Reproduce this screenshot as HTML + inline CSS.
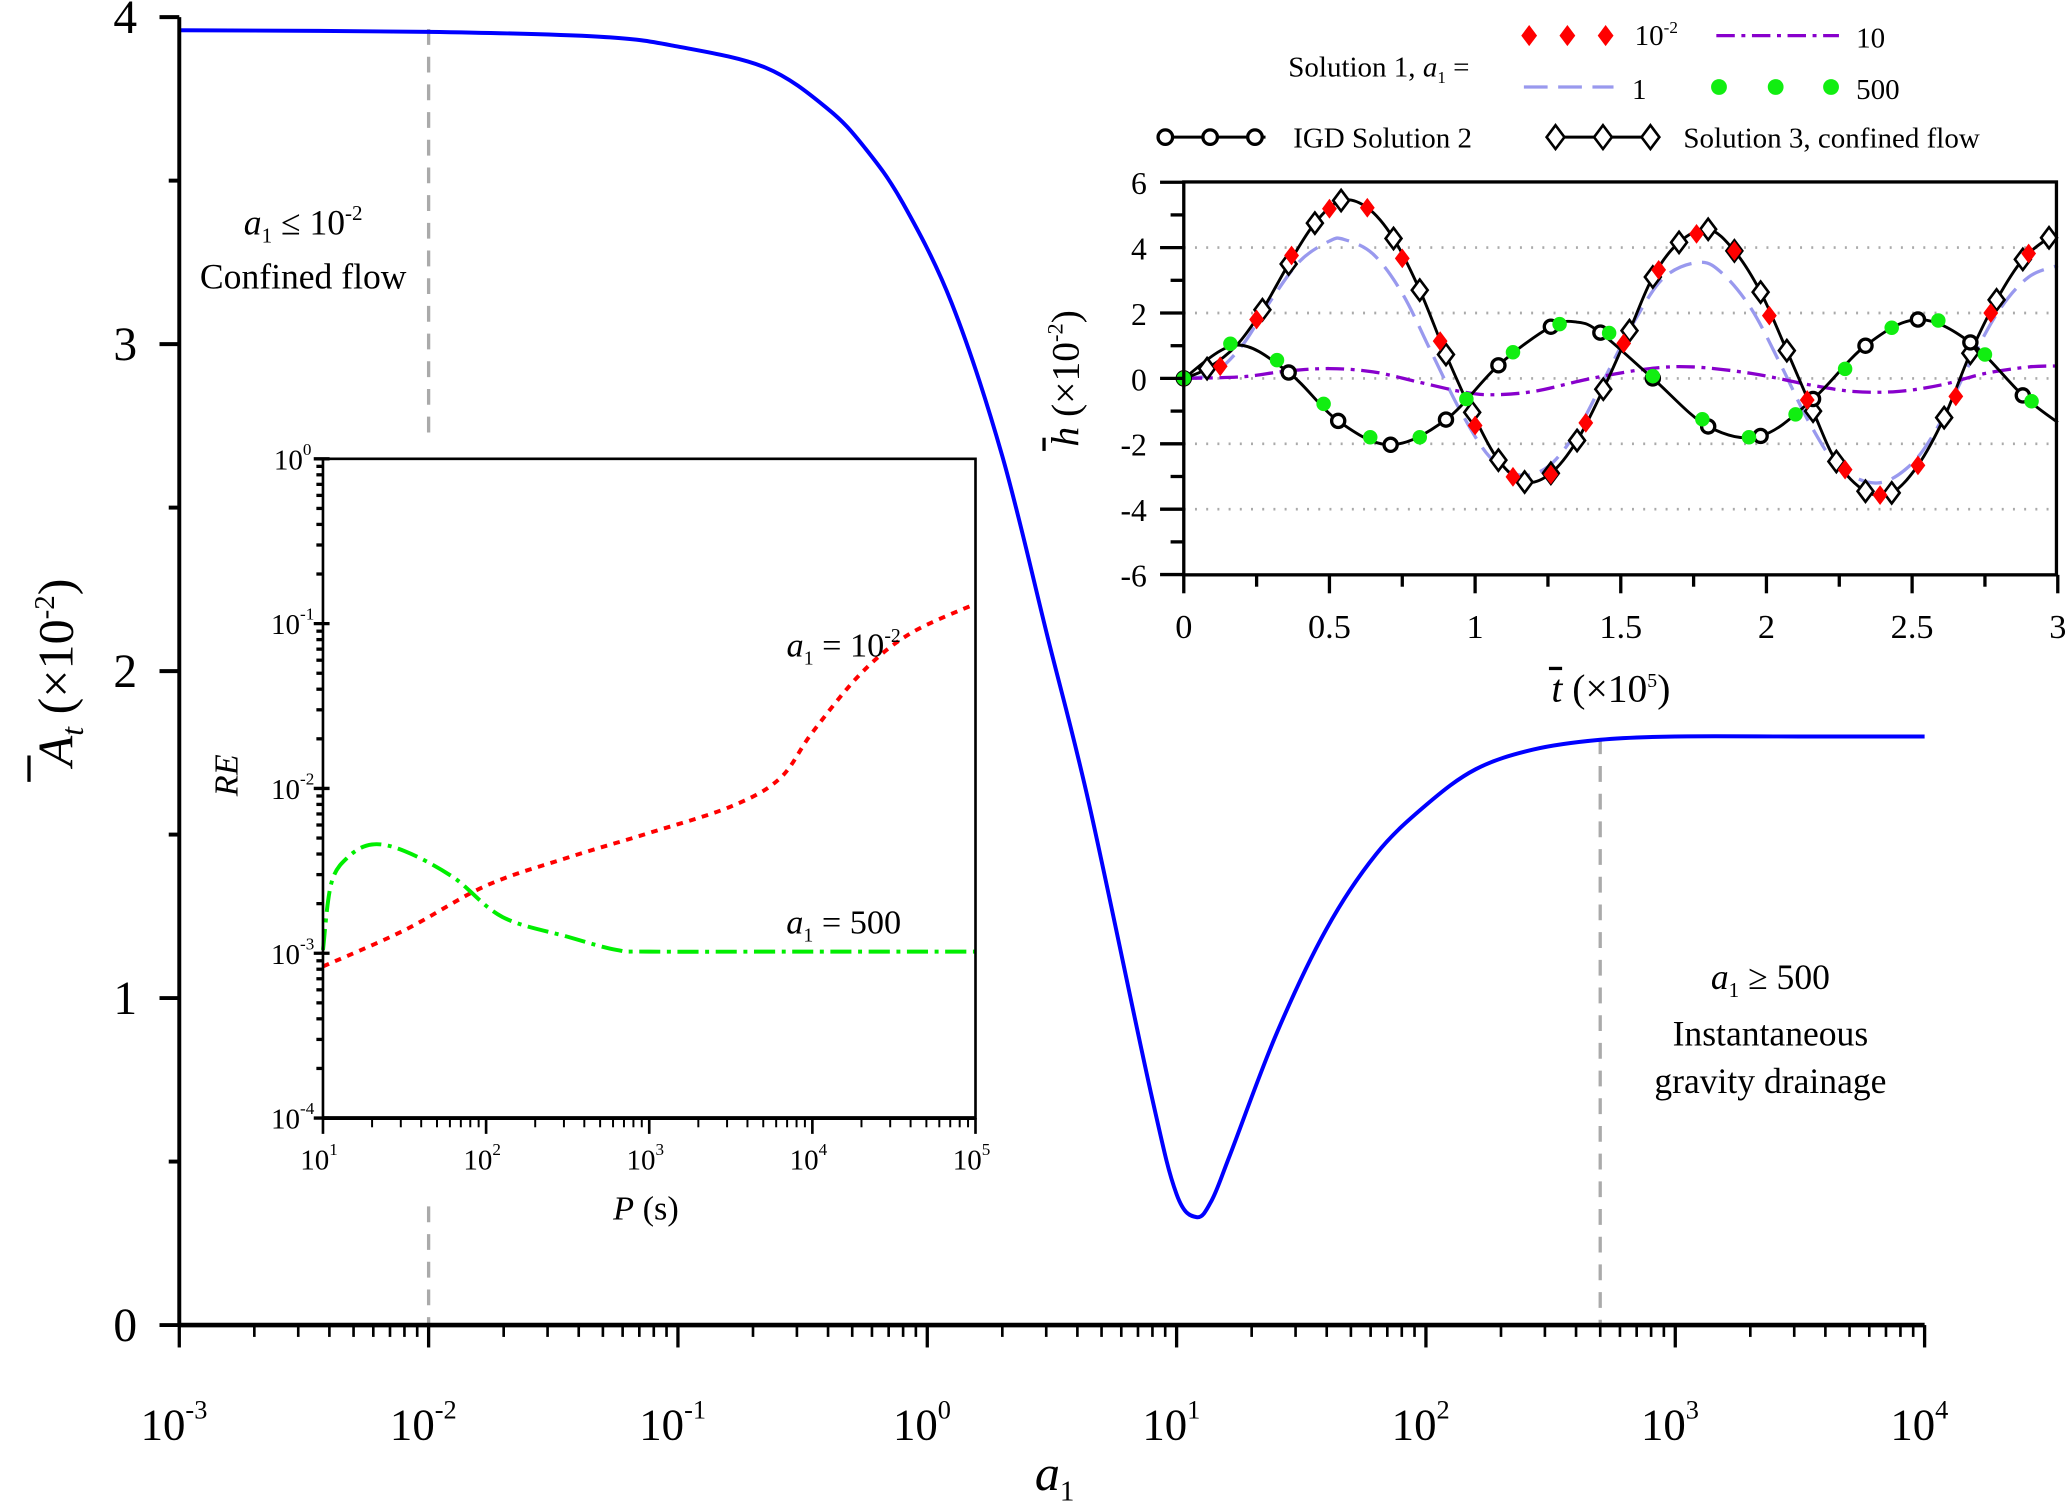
<!DOCTYPE html>
<html><head><meta charset="utf-8"><style>
html,body{margin:0;padding:0;background:#fff;overflow:hidden}
svg{display:block}
text{font-family:"Liberation Serif",serif;fill:#000}
</style></head><body>
<svg id="c" xmlns="http://www.w3.org/2000/svg" width="2067" height="1507" viewBox="0 0 1568 1143" preserveAspectRatio="none">
<g id="g"></g>
</svg>
<script>
// ---- main chart data ----
const mainLogA = [-3,-2,-1.313,-1,-0.647,-0.4,-0.25,-0.097,0.098,0.3,0.484,0.65,0.897,1.0,1.08,1.14,1.214,1.4,1.6,1.8,2,2.2,2.43,2.7,3,3.5,4];
const mainAt   = [3.96,3.955,3.94,3.91,3.845,3.72,3.60,3.43,3.125,2.66,2.10,1.59,0.71,0.40,0.33,0.38,0.52,0.89,1.21,1.44,1.59,1.70,1.76,1.79,1.80,1.80,1.80];
const mainYTicks = [0,1,2,3,4];
const mainXDecades = [-3,-2,-1,0,1,2,3,4];
// ---- inset 1 data (log10 P, log10 RE) ----
const reLogP_a = [1,1.5,2,2.5,3,3.5,3.8,4,4.3,4.6,5];
const reLog_a  = [-3.08,-2.86,-2.59,-2.42,-2.27,-2.11,-1.94,-1.66,-1.30,-1.06,-0.88];
const reLogP_b = [1,1.05,1.15,1.3,1.5,1.8,2.1,2.5,2.8,3,4,5];
const reLog_b  = [-2.98,-2.58,-2.42,-2.34,-2.38,-2.54,-2.78,-2.9,-2.98,-2.99,-2.99,-2.99];
const insetYDecades = [-4,-3,-2,-1,0];
const insetXDecades = [1,2,3,4,5];
// ---- inset 2 data ----
const s3T = [0,0.08,0.18,0.27,0.36,0.45,0.54,0.63,0.72,0.81,0.9,0.99,1.08,1.17,1.26,1.35,1.44,1.53,1.61,1.7,1.8,1.89,1.98,2.07,2.16,2.24,2.34,2.43,2.52,2.61,2.7,2.79,2.88,2.97,3];
const s3V = [0,0.3,1.0,2.1,3.5,4.75,5.44,5.22,4.28,2.7,0.73,-1.04,-2.5,-3.17,-2.9,-1.9,-0.33,1.46,3.1,4.16,4.56,3.9,2.64,0.85,-1.0,-2.54,-3.45,-3.5,-2.66,-1.2,0.77,2.4,3.64,4.3,4.35];
const redT = [0,0.125,0.25,0.37,0.5,0.63,0.75,0.88,1.0,1.13,1.26,1.38,1.51,1.63,1.76,1.89,2.01,2.14,2.27,2.39,2.52,2.65,2.77,2.9];
const redV = [0,0.37,1.8,3.76,5.19,5.22,3.67,1.14,-1.44,-3.01,-2.94,-1.36,1.07,3.32,4.42,3.9,1.92,-0.66,-2.79,-3.57,-2.66,-0.55,2.0,3.82];
const blueT = [0,0.1,0.2,0.3,0.4,0.5,0.55,0.65,0.75,0.85,0.95,1.05,1.15,1.25,1.35,1.45,1.55,1.65,1.77,1.85,1.95,2.05,2.15,2.25,2.38,2.5,2.6,2.7,2.8,2.9,3];
const blueV = [0,0.15,1.0,2.4,3.6,4.2,4.25,3.8,2.6,0.8,-1.0,-2.4,-2.95,-2.7,-1.6,0.1,1.8,3.1,3.55,3.2,2.1,0.4,-1.4,-2.7,-3.2,-2.6,-1.3,0.5,2.1,3.1,3.45];
const purT = [0,0.2,0.35,0.5,0.65,0.8,0.95,1.05,1.2,1.4,1.6,1.75,1.95,2.15,2.3,2.45,2.6,2.75,2.9,3];
const purV = [0,0.05,0.22,0.3,0.2,-0.1,-0.4,-0.5,-0.4,0,0.3,0.35,0.15,-0.2,-0.4,-0.4,-0.2,0.15,0.35,0.38];
const s2T = [0,0.18,0.36,0.53,0.71,0.9,1.08,1.26,1.35,1.43,1.61,1.8,1.98,2.16,2.34,2.52,2.7,2.88,3];
const s2V = [0,1.02,0.18,-1.3,-2.03,-1.26,0.4,1.58,1.72,1.4,0.0,-1.47,-1.76,-0.63,1.0,1.8,1.1,-0.52,-1.35];
const s2MarkT = [0,0.36,0.53,0.71,0.9,1.08,1.26,1.43,1.61,1.8,1.98,2.16,2.34,2.52,2.7,2.88];
const s2MarkV = [0,0.18,-1.3,-2.03,-1.26,0.4,1.58,1.4,0.0,-1.47,-1.76,-0.63,1.0,1.8,1.1,-0.52];
const s3MarkT = [0.08,0.27,0.36,0.45,0.54,0.72,0.81,0.9,0.99,1.08,1.17,1.26,1.35,1.44,1.53,1.61,1.7,1.8,1.89,1.98,2.07,2.16,2.24,2.34,2.43,2.61,2.7,2.79,2.88,2.97];
const s3MarkV = [0.3,2.1,3.5,4.75,5.44,4.28,2.7,0.73,-1.04,-2.5,-3.17,-2.9,-1.9,-0.33,1.46,3.1,4.16,4.56,3.9,2.64,0.85,-1.0,-2.54,-3.45,-3.5,-1.2,0.77,2.4,3.64,4.3];
const grT = [0,0.16,0.32,0.48,0.64,0.81,0.97,1.13,1.29,1.46,1.61,1.78,1.94,2.1,2.27,2.43,2.59,2.75,2.91];
const grV = [0,1.06,0.56,-0.78,-1.8,-1.8,-0.63,0.8,1.66,1.39,0.07,-1.25,-1.8,-1.1,0.29,1.55,1.77,0.73,-0.7];
const h2YTicks = [-6,-4,-2,0,2,4,6];
const h2XTicks = [0,0.5,1,1.5,2,2.5,3];
const h2XLabels = ["0","0.5","1","1.5","2","2.5","3"];

const NS="http://www.w3.org/2000/svg";
const G=document.getElementById('g');
function el(tag,attrs,parent){const e=document.createElementNS(NS,tag);for(const k in attrs)e.setAttribute(k,attrs[k]);(parent||G).appendChild(e);return e;}
function line(x1,y1,x2,y2,st,w,dash){return el('line',{x1,y1,x2,y2,stroke:st||'#000','stroke-width':w||2,'stroke-dasharray':dash||'none'});}
function txt(x,y,s,size,anchor,extra){const t=el('text',Object.assign({x,y,'font-size':size,'text-anchor':anchor||'middle'},extra||{}));t.innerHTML=s;return t;}
function smooth(pts){let d='M'+pts[0][0]+','+pts[0][1];for(let i=0;i<pts.length-1;i++){const p0=pts[Math.max(0,i-1)],p1=pts[i],p2=pts[i+1],p3=pts[Math.min(pts.length-1,i+2)];const c1x=p1[0]+(p2[0]-p0[0])/6,c1y=p1[1]+(p2[1]-p0[1])/6,c2x=p2[0]-(p3[0]-p1[0])/6,c2y=p2[1]-(p3[1]-p1[1])/6;d+=` C${c1x},${c1y} ${c2x},${c2y} ${p2[0]},${p2[1]}`;}return d;}

// ===== main axes =====
const mx=l=>136+(l+3)*189.14, my=v=>1005-v*248;
let e;
e=line(mx(-2),22,mx(-2),335,'#aaa',2.5,'12,9');
e=line(mx(-2),915,mx(-2),1005,'#aaa',2.5,'12,9');
e=line(mx(Math.log10(500)),560,mx(Math.log10(500)),1005,'#aaa',2.5,'12,9');
e=el('path',{d:smooth(mainLogA.map((l,i)=>[mx(l),my(mainAt[i])])),fill:'none',stroke:'#0000ff','stroke-width':3});

e=line(136,13,136,1005,'#000',3);
e=line(136,1005,1460,1005,'#000',3.5);
mainYTicks.forEach(v=>{line(121,my(v),136,my(v),'#000',3);
 e=txt(95,my(v)+12,String(v),36);
 if(v<4)line(128,my(v+0.5),136,my(v+0.5),'#000',3);});
mainXDecades.forEach((d,i)=>{line(mx(d),1005,mx(d),1022,'#000',2.5);
 e=txt(mx(d)-4,1092,'10<tspan font-size="20" dy="-16">'+(d<0?'-'+(-d):d)+'</tspan>',34);
 if(i<mainXDecades.length-1)for(let k=2;k<10;k++){const x=mx(d+Math.log10(k));line(x,1005,x,1014,'#000',2);}});
e=txt(800,1130,'<tspan font-style="italic">a</tspan><tspan font-size="22" dy="8">1</tspan>',38);
e=txt(0,0,'<tspan font-style="italic">A</tspan><tspan font-style="italic" font-size="24" dy="8">t</tspan><tspan dy="-8"> (×10</tspan><tspan font-size="22" dy="-14">-2</tspan><tspan dy="14">)</tspan>',38,'middle',{transform:'translate(55,510) rotate(-90)'});

line(22,573,22,593,'#000',2.5);
e=txt(230,178,'<tspan font-style="italic">a</tspan><tspan font-size="16" dy="6">1</tspan><tspan dy="-6"> ≤ 10</tspan><tspan font-size="16" dy="-11">-2</tspan>',27);
e=txt(230,219,'Confined flow',27);
e=txt(1343,750,'<tspan font-style="italic">a</tspan><tspan font-size="16" dy="6">1</tspan><tspan dy="-6"> ≥ 500</tspan>',27);
e=txt(1343,793,'Instantaneous',27);
e=txt(1343,829,'gravity drainage',27);

// ===== inset 1 =====
const ix=l=>245+(l-1)*123.75, iy=l=>848-(l+4)*125;
el('rect',{x:245,y:348,width:495,height:500,fill:'#fff',stroke:'none'});
e=el('path',{d:smooth(reLogP_a.map((l,i)=>[ix(l),iy(reLog_a[i])])),fill:'none',stroke:'#ff0000','stroke-width':3,'stroke-dasharray':'5,5'});

e=el('path',{d:smooth(reLogP_b.map((l,i)=>[ix(l),iy(reLog_b[i])])),fill:'none',stroke:'#00ee00','stroke-width':3,'stroke-dasharray':'16,5,3,5'});

e=el('rect',{x:245,y:348,width:495,height:500,fill:'none',stroke:'#000','stroke-width':2});
line(245,848,740,848,'#000',3);
insetYDecades.forEach((d,i)=>{line(238,iy(d),250,iy(d),'#000',2.5);
 e=txt(222,iy(d)+8,'10<tspan font-size="13" dy="-11">'+(d<0?'-'+(-d):d)+'</tspan>',22);
 if(i<insetYDecades.length-1)for(let k=2;k<10;k++){const y=iy(d+Math.log10(k));line(240,y,245,y,'#000',2.5);}});
insetXDecades.forEach((d,i)=>{line(ix(d),848,ix(d),860,'#000',2);
 e=txt(ix(d)-3,887,'10<tspan font-size="13" dy="-11">'+d+'</tspan>',22);
 if(i<insetXDecades.length-1)for(let k=2;k<10;k++){const x=ix(d+Math.log10(k));line(x,848,x,855,'#000',1.5);}});
e=txt(490,925,'<tspan font-style="italic">P</tspan> (s)',26);
e=txt(0,0,'RE',26,'middle',{transform:'translate(180,588) rotate(-90)','font-style':'italic'});
e=txt(640,498,'<tspan font-style="italic">a</tspan><tspan font-size="15" dy="6">1</tspan><tspan dy="-6"> = 10</tspan><tspan font-size="15" dy="-11">-2</tspan>',26);
e=txt(640,708,'<tspan font-style="italic">a</tspan><tspan font-size="15" dy="6">1</tspan><tspan dy="-6"> = 500</tspan>',26);

// ===== inset 2 =====
const hx=t=>898+t*221, hy=v=>287-v*24.8;
[-4,-2,0,2,4].forEach(v=>{e=line(898,hy(v),1560,hy(v),'#aaa',2,'1.5,7');});
e=el('path',{d:smooth(blueT.map((t,i)=>[hx(t),hy(blueV[i])])),fill:'none',stroke:'#9999ee','stroke-width':2.5,'stroke-dasharray':'18,8'});
e=el('path',{d:smooth(purT.map((t,i)=>[hx(t),hy(purV[i])])),fill:'none',stroke:'#8800cc','stroke-width':2.5,'stroke-dasharray':'14,5,3,5'});
e=el('path',{d:smooth(s2T.map((t,i)=>[hx(t),hy(s2V[i])])),fill:'none',stroke:'#000','stroke-width':2.2});
e=el('path',{d:smooth(s3T.map((t,i)=>[hx(t),hy(s3V[i])])),fill:'none',stroke:'#000','stroke-width':2.2});
function diamond(x,y,r,fill,stroke){return el('path',{d:`M${x},${y-r}L${x+r*0.75},${y}L${x},${y+r}L${x-r*0.75},${y}Z`,fill,stroke:stroke||'none','stroke-width':2});}
s3MarkT.forEach((t,i)=>{e=diamond(hx(t),hy(s3MarkV[i]),8,'#fff','#000');});
s2MarkT.forEach((t,i)=>{e=el('circle',{cx:hx(t),cy:hy(s2MarkV[i]),r:5,fill:'#fff',stroke:'#000','stroke-width':2.5});});
redT.forEach((t,i)=>{e=diamond(hx(t),hy(redV[i]),7.5,'#ff0000');});
grT.forEach((t,i)=>{e=el('circle',{cx:hx(t),cy:hy(grV[i]),r:5.5,fill:'#11ee11'});});
e=el('rect',{x:898,y:138,width:662,height:298,fill:'none',stroke:'#000','stroke-width':2.5});
h2YTicks.forEach((v,i)=>{line(880,hy(v),898,hy(v),'#000',2.5);
 e=txt(870,hy(v)+9,String(v),24,'end');
 if(i<h2YTicks.length-1)line(888,hy(v+1),898,hy(v+1),'#000',2.5);});
h2XTicks.forEach((t,i)=>{line(hx(t),436,hx(t),450,'#000',2.5);
 e=txt(hx(t),484,h2XLabels[i],26);
 if(i<h2XTicks.length-1){line(hx(t+0.25),436,hx(t+0.25),445,'#000',2.5);}});
e=txt(1222,532,'<tspan font-style="italic">t</tspan> (×10<tspan font-size="15" dy="-11">5</tspan><tspan dy="11">)</tspan>',30);
line(1175,507,1185,507,'#000',2.5);
e=txt(0,0,'<tspan font-style="italic">h</tspan> (×10<tspan font-size="17" dy="-12">-2</tspan><tspan dy="12">)</tspan>',30,'middle',{transform:'translate(818,287) rotate(-90)'});
line(792,332,792,342,'#000',2.5);

// legend
e=txt(1046,58,'Solution 1, <tspan font-style="italic">a</tspan><tspan font-size="13" dy="5">1</tspan><tspan dy="-5"> =</tspan>',22);
[1160,1189,1218].forEach(x=>{e=diamond(x,27,8,'#ff0000');});
e=txt(1240,34,'10<tspan font-size="13" dy="-9">-2</tspan>',22,'start');
e=line(1302,27,1395,27,'#8800cc',2.5,'14,5,3,5');
e=txt(1408,36,'10',22,'start');
e=line(1156,66,1224,66,'#9999ee',2.5,'18,8');
e=txt(1238,75,'1',22,'start');
[1304,1347,1389].forEach(x=>{e=el('circle',{cx:x,cy:66,r:6,fill:'#11ee11'});});
e=txt(1408,75,'500',22,'start');
line(880,104,960,104,'#000',2.2);
[884,918,952].forEach(x=>{e=el('circle',{cx:x,cy:104,r:5.5,fill:'#fff',stroke:'#000','stroke-width':2.5});});
e=txt(981,112,'IGD Solution 2',22,'start');
line(1175,104,1258,104,'#000',2.2);
[1180,1216,1252].forEach(x=>{e=diamond(x,104,9,'#fff','#000');});
e=txt(1277,112,'Solution 3, confined flow',22,'start');
</script>
</body></html>
